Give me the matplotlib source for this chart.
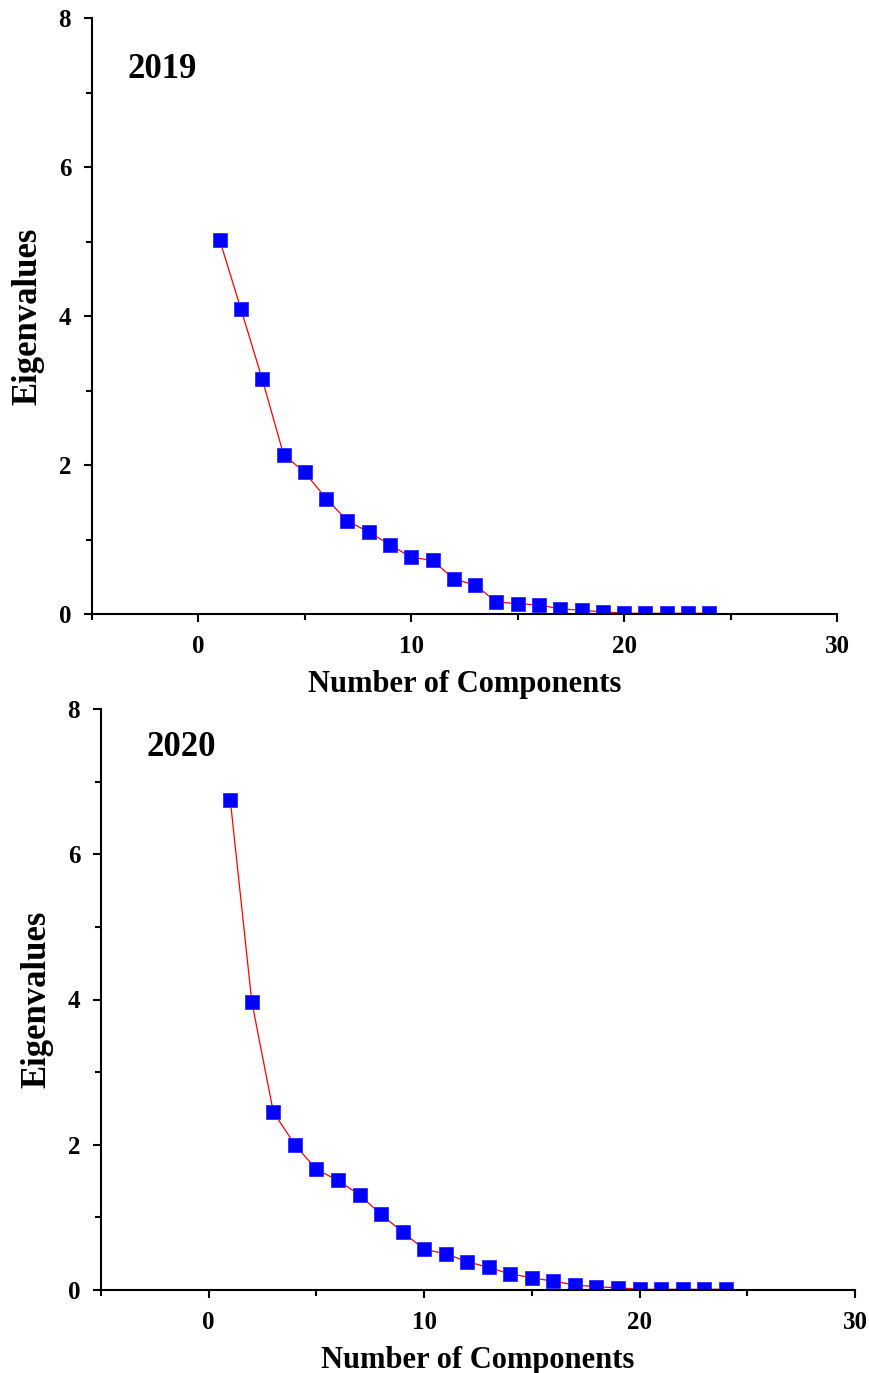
import matplotlib.pyplot as plt
from matplotlib.ticker import MultipleLocator

components = list(range(1, 25))
eig_2019 = [5.02, 4.09, 3.15, 2.14, 1.90, 1.55, 1.25, 1.10, 0.93, 0.76, 0.72, 0.47,
            0.39, 0.16, 0.14, 0.12, 0.07, 0.05, 0.03, 0.01, 0.01, 0.01, 0.01, 0.01]
eig_2020 = [6.75, 3.97, 2.45, 2.00, 1.66, 1.51, 1.31, 1.04, 0.80, 0.56, 0.50, 0.39,
            0.31, 0.22, 0.17, 0.12, 0.07, 0.045, 0.03, 0.01, 0.01, 0.01, 0.01, 0.01]
years = ['2019', '2020']

plt.rcParams['font.family'] = ['Liberation Serif', 'DejaVu Serif']
plt.rcParams['font.weight'] = 'bold'

fig = plt.figure(figsize=(8.7, 13.73), dpi=100)
W, H = 870, 1373
# pixel boxes: left, right, top, bottom
boxes = [(92, 837, 18, 614), (101, 855, 709, 1290)]
year_pos = [(0.048, 0.914), (0.061, 0.934)]

for (l, r, t, b), vals, year, (yx, yy) in zip(boxes, [eig_2019, eig_2020], years, year_pos):
    ax = fig.add_axes([l / W, 1 - b / H, (r - l) / W, (b - t) / H])
    ax.plot(components, vals, color='red', lw=0.9, zorder=2)
    ax.plot(components, vals, ls='none', marker='s', ms=9.5, mfc='#0000ff',
            mec='#2a2aff', mew=0.6, zorder=3)
    ax.set_xlim(-5, 30)
    ax.set_ylim(0, 8)
    ax.xaxis.set_major_locator(MultipleLocator(10))
    ax.xaxis.set_minor_locator(MultipleLocator(5))
    ax.yaxis.set_major_locator(MultipleLocator(2))
    ax.yaxis.set_minor_locator(MultipleLocator(1))
    for s in ['top', 'right']:
        ax.spines[s].set_visible(False)
    for s in ['left', 'bottom']:
        ax.spines[s].set_linewidth(1.5)
        ax.spines[s].set_zorder(4)
    ax.tick_params(which='major', direction='out', length=6, width=1.5,
                   labelsize=18, pad=9)
    ax.tick_params(which='minor', direction='out', length=4, width=1.5)
    for lab in ax.get_xticklabels() + ax.get_yticklabels():
        lab.set_fontweight('bold')
    ax.set_xlabel('Number of Components', fontsize=22, fontweight='bold', labelpad=9)
    ax.set_ylabel('Eigenvalues', fontsize=25, fontweight='bold', labelpad=10)
    ax.text(yx, yy, year, transform=ax.transAxes, fontsize=25,
            fontweight='bold', ha='left', va='center')

fig.savefig('out.png', dpi=100)
